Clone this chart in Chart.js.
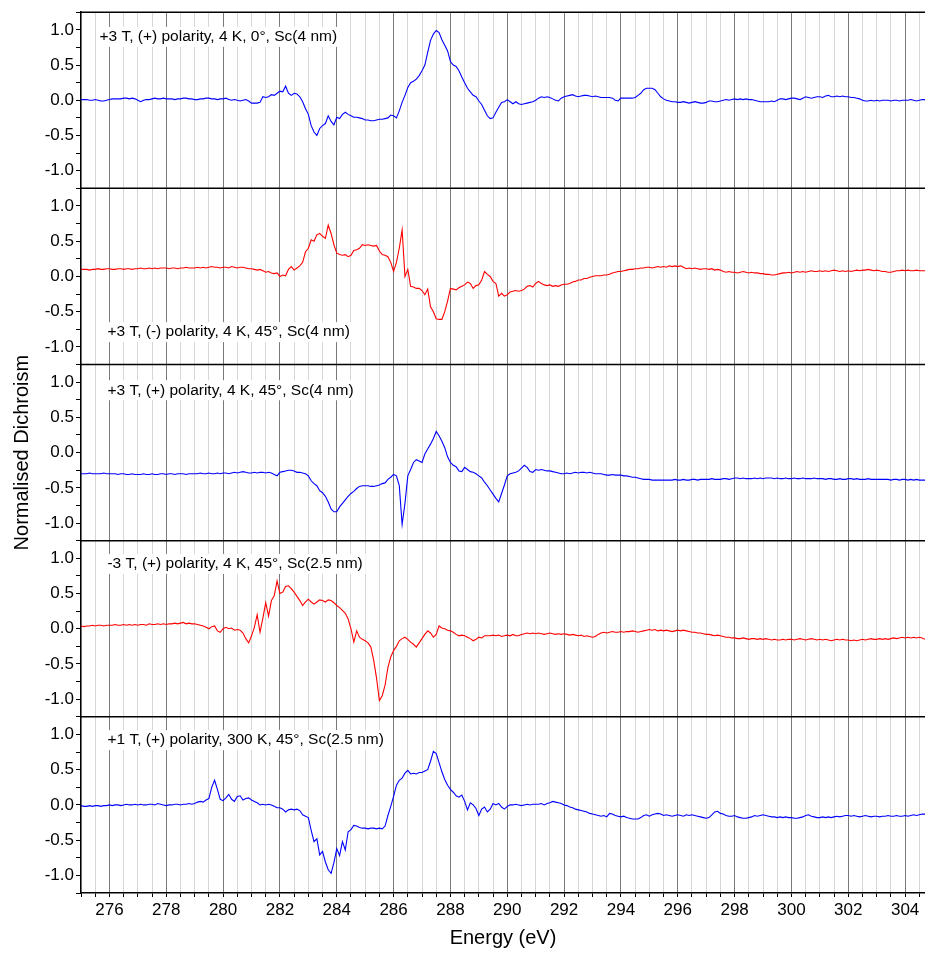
<!DOCTYPE html>
<html>
<head>
<meta charset="utf-8">
<script src="https://cdn.jsdelivr.net/npm/chart.js@4.4.0/dist/chart.umd.min.js"></script>
<style>
  html, body { margin: 0; padding: 0; background: #fff; }
  #wrap { width: 925px; height: 953px; position: relative; }
</style>
</head>
<body>
<div id="wrap"><canvas id="xmcd"></canvas></div>
<script>
// energy grid 275.0 .. 304.7 eV in 0.1 eV steps (each data row below = 1 eV)
var energies = [];
for (var i = 0; i < 298; i++) energies.push(Math.round((275 + i * 0.1) * 10) / 10);

// +3 T, (+) polarity, 4 K, 0 deg, Sc(4 nm)
var dichroism1 = [
  0.01,0.01,0.01,0.0,0.0,0.01,0.0,-0.01,-0.01,0.0,
  0.01,0.02,0.02,0.02,0.02,0.03,0.03,0.02,0.03,0.02,
  0.0,-0.02,0.0,0.01,0.01,0.02,0.03,0.02,0.02,0.03,
  0.02,0.02,0.02,0.01,0.02,0.02,0.03,0.03,0.02,0.02,
  0.01,0.01,0.02,0.02,0.03,0.03,0.02,0.02,0.01,0.02,
  0.02,0.03,0.01,0.0,0.01,0.0,-0.01,0.0,0.01,-0.01,
  -0.04,-0.04,-0.04,-0.03,0.05,0.04,0.05,0.08,0.07,0.1,
  0.13,0.12,0.2,0.1,0.07,0.1,0.09,0.05,-0.02,-0.12,
  -0.2,-0.36,-0.45,-0.5,-0.4,-0.36,-0.33,-0.22,-0.3,-0.35,
  -0.24,-0.26,-0.2,-0.17,-0.2,-0.22,-0.24,-0.24,-0.25,-0.26,
  -0.28,-0.28,-0.29,-0.29,-0.28,-0.27,-0.27,-0.26,-0.25,-0.21,
  -0.22,-0.25,-0.15,-0.03,0.07,0.18,0.25,0.27,0.3,0.35,
  0.42,0.5,0.68,0.85,0.94,0.99,0.96,0.86,0.78,0.7,
  0.55,0.5,0.48,0.42,0.33,0.25,0.17,0.12,0.07,0.05,
  -0.01,-0.06,-0.14,-0.22,-0.26,-0.25,-0.17,-0.1,-0.03,-0.02,
  0.01,-0.02,-0.05,-0.02,-0.05,-0.06,-0.05,-0.04,-0.03,-0.02,
  0.0,0.03,0.05,0.04,0.05,0.04,0.02,0.0,-0.01,0.03,
  0.05,0.06,0.07,0.08,0.06,0.05,0.06,0.07,0.07,0.06,
  0.05,0.06,0.05,0.04,0.04,0.04,0.04,0.03,0.0,-0.01,
  0.03,0.03,0.03,0.03,0.03,0.04,0.07,0.1,0.15,0.17,
  0.17,0.17,0.15,0.1,0.05,0.02,0.0,-0.01,-0.02,-0.02,
  -0.03,-0.03,-0.02,-0.03,-0.04,-0.03,-0.02,-0.03,-0.04,-0.04,
  -0.03,-0.01,-0.01,-0.02,-0.02,-0.01,0.0,0.01,0.0,0.01,
  0.02,0.01,0.02,0.01,0.02,0.01,0.01,0.0,-0.01,-0.02,
  -0.02,-0.02,-0.02,-0.01,-0.02,0.0,0.02,0.02,0.01,0.02,
  0.03,0.03,0.02,0.01,0.03,0.05,0.04,0.03,0.04,0.05,
  0.05,0.04,0.06,0.07,0.05,0.05,0.06,0.05,0.06,0.05,
  0.05,0.04,0.04,0.03,0.02,0.0,-0.01,-0.01,0.0,-0.01,
  0.0,-0.01,0.0,0.0,0.0,-0.01,0.0,0.0,-0.01,0.0,
  0.0,0.0,0.01,0.0,-0.01,0.0,0.01,0.01
];

// +3 T, (-) polarity, 4 K, 45 deg, Sc(4 nm)
var dichroism2 = [
  0.1,0.1,0.1,0.09,0.1,0.1,0.11,0.1,0.1,0.11,
  0.11,0.1,0.1,0.11,0.11,0.1,0.11,0.11,0.1,0.11,
  0.11,0.12,0.11,0.11,0.12,0.11,0.12,0.11,0.12,0.12,
  0.12,0.11,0.12,0.12,0.11,0.12,0.12,0.13,0.12,0.12,
  0.12,0.13,0.12,0.13,0.12,0.13,0.14,0.13,0.13,0.12,
  0.13,0.13,0.12,0.14,0.13,0.12,0.13,0.13,0.12,0.11,
  0.11,0.1,0.09,0.1,0.08,0.06,0.07,0.05,0.04,0.05,
  0.0,0.02,0.01,0.1,0.14,0.09,0.12,0.15,0.2,0.35,
  0.4,0.52,0.5,0.59,0.61,0.57,0.54,0.73,0.61,0.45,
  0.33,0.31,0.3,0.31,0.28,0.3,0.37,0.38,0.4,0.45,
  0.44,0.45,0.44,0.43,0.44,0.36,0.31,0.3,0.28,0.2,
  0.07,0.2,0.4,0.66,0.0,0.1,-0.14,-0.15,-0.17,-0.17,
  -0.2,-0.26,-0.18,-0.43,-0.5,-0.6,-0.61,-0.61,-0.5,-0.35,
  -0.17,-0.18,-0.19,-0.16,-0.14,-0.12,-0.08,-0.1,-0.17,-0.13,
  -0.12,-0.05,0.07,0.03,0.0,-0.07,-0.1,-0.28,-0.24,-0.28,
  -0.26,-0.22,-0.21,-0.2,-0.21,-0.2,-0.18,-0.14,-0.13,-0.15,
  -0.1,-0.07,-0.1,-0.12,-0.13,-0.12,-0.14,-0.13,-0.14,-0.12,
  -0.11,-0.11,-0.1,-0.08,-0.07,-0.05,-0.05,-0.03,-0.03,-0.01,
  0.0,0.01,0.01,0.01,0.02,0.02,0.03,0.05,0.06,0.07,
  0.07,0.08,0.09,0.1,0.1,0.11,0.11,0.12,0.12,0.13,
  0.13,0.12,0.13,0.14,0.13,0.14,0.13,0.15,0.14,0.15,
  0.14,0.15,0.13,0.11,0.12,0.11,0.12,0.11,0.1,0.11,
  0.11,0.1,0.11,0.09,0.1,0.09,0.07,0.06,0.07,0.06,
  0.06,0.05,0.06,0.07,0.06,0.05,0.06,0.05,0.05,0.04,
  0.04,0.03,0.03,0.02,0.02,0.03,0.04,0.05,0.05,0.06,
  0.05,0.06,0.07,0.06,0.07,0.06,0.07,0.08,0.07,0.07,
  0.08,0.07,0.08,0.07,0.08,0.09,0.08,0.07,0.08,0.07,
  0.08,0.07,0.08,0.09,0.08,0.09,0.09,0.1,0.09,0.08,
  0.09,0.08,0.07,0.07,0.06,0.06,0.07,0.08,0.08,0.09,
  0.08,0.09,0.08,0.08,0.09,0.08,0.08,0.08
];

// +3 T, (+) polarity, 4 K, 45 deg, Sc(4 nm)
var dichroism3 = [
  -0.3,-0.3,-0.3,-0.29,-0.3,-0.3,-0.3,-0.3,-0.29,-0.3,
  -0.3,-0.3,-0.3,-0.31,-0.3,-0.3,-0.31,-0.31,-0.3,-0.31,
  -0.31,-0.31,-0.3,-0.31,-0.31,-0.3,-0.31,-0.31,-0.3,-0.3,
  -0.31,-0.3,-0.3,-0.31,-0.3,-0.3,-0.3,-0.31,-0.3,-0.3,
  -0.3,-0.3,-0.29,-0.3,-0.3,-0.29,-0.3,-0.3,-0.29,-0.3,
  -0.29,-0.29,-0.3,-0.29,-0.28,-0.29,-0.28,-0.27,-0.28,-0.29,
  -0.29,-0.28,-0.29,-0.28,-0.28,-0.29,-0.28,-0.29,-0.31,-0.33,
  -0.28,-0.27,-0.26,-0.25,-0.25,-0.26,-0.28,-0.28,-0.29,-0.3,
  -0.33,-0.4,-0.44,-0.47,-0.54,-0.57,-0.62,-0.7,-0.8,-0.84,
  -0.84,-0.77,-0.72,-0.67,-0.62,-0.58,-0.55,-0.51,-0.48,-0.47,
  -0.47,-0.47,-0.48,-0.48,-0.47,-0.46,-0.44,-0.43,-0.38,-0.35,
  -0.31,-0.33,-0.47,-1.02,-0.72,-0.33,-0.24,-0.14,-0.1,-0.12,
  -0.14,-0.02,0.05,0.12,0.2,0.3,0.24,0.16,0.07,-0.06,
  -0.14,-0.18,-0.2,-0.26,-0.27,-0.21,-0.24,-0.27,-0.28,-0.3,
  -0.33,-0.36,-0.42,-0.47,-0.53,-0.59,-0.65,-0.7,-0.58,-0.46,
  -0.33,-0.3,-0.29,-0.28,-0.26,-0.22,-0.18,-0.21,-0.27,-0.28,
  -0.24,-0.25,-0.24,-0.25,-0.26,-0.26,-0.27,-0.28,-0.29,-0.3,
  -0.3,-0.29,-0.3,-0.29,-0.28,-0.29,-0.28,-0.28,-0.29,-0.28,
  -0.29,-0.3,-0.3,-0.3,-0.31,-0.32,-0.32,-0.31,-0.32,-0.32,
  -0.32,-0.33,-0.33,-0.34,-0.35,-0.35,-0.36,-0.37,-0.38,-0.38,
  -0.38,-0.39,-0.39,-0.39,-0.39,-0.39,-0.39,-0.39,-0.39,-0.38,
  -0.39,-0.39,-0.38,-0.39,-0.39,-0.38,-0.38,-0.39,-0.38,-0.38,
  -0.38,-0.38,-0.37,-0.38,-0.38,-0.38,-0.37,-0.37,-0.38,-0.37,
  -0.36,-0.36,-0.37,-0.36,-0.37,-0.37,-0.37,-0.36,-0.37,-0.36,
  -0.37,-0.36,-0.36,-0.36,-0.37,-0.36,-0.37,-0.37,-0.36,-0.37,
  -0.37,-0.36,-0.37,-0.37,-0.36,-0.37,-0.37,-0.37,-0.36,-0.37,
  -0.37,-0.37,-0.38,-0.37,-0.37,-0.38,-0.38,-0.37,-0.38,-0.38,
  -0.37,-0.37,-0.38,-0.37,-0.38,-0.38,-0.38,-0.37,-0.38,-0.38,
  -0.38,-0.38,-0.38,-0.38,-0.38,-0.39,-0.38,-0.38,-0.39,-0.38,
  -0.38,-0.39,-0.38,-0.39,-0.38,-0.39,-0.39,-0.39
];

// -3 T, (+) polarity, 4 K, 45 deg, Sc(2.5 nm)
var dichroism4 = [
  0.04,0.03,0.04,0.04,0.05,0.04,0.05,0.05,0.04,0.05,
  0.05,0.05,0.06,0.05,0.05,0.06,0.05,0.06,0.05,0.06,
  0.05,0.06,0.06,0.05,0.07,0.06,0.06,0.07,0.06,0.07,
  0.06,0.07,0.07,0.08,0.07,0.08,0.09,0.07,0.08,0.07,
  0.07,0.06,0.05,0.04,0.02,0.0,0.03,0.04,-0.03,-0.05,
  0.0,0.02,0.0,0.01,-0.02,-0.01,-0.02,-0.06,-0.14,-0.2,
  -0.1,0.02,0.2,-0.05,0.15,0.37,0.18,0.4,0.47,0.68,
  0.5,0.52,0.6,0.61,0.57,0.52,0.46,0.4,0.33,0.38,
  0.42,0.38,0.35,0.38,0.41,0.4,0.38,0.41,0.4,0.37,
  0.33,0.3,0.26,0.22,0.14,0.0,-0.19,-0.03,-0.12,-0.15,
  -0.17,-0.2,-0.26,-0.45,-0.7,-1.02,-0.95,-0.8,-0.55,-0.4,
  -0.31,-0.25,-0.17,-0.14,-0.12,-0.15,-0.19,-0.22,-0.26,-0.2,
  -0.14,-0.08,-0.03,-0.06,-0.12,-0.08,0.04,0.01,0.0,-0.02,
  -0.03,-0.05,-0.08,-0.1,-0.09,-0.1,-0.12,-0.14,-0.17,-0.15,
  -0.12,-0.13,-0.1,-0.1,-0.1,-0.09,-0.1,-0.09,-0.11,-0.1,
  -0.09,-0.1,-0.08,-0.1,-0.1,-0.08,-0.07,-0.06,-0.07,-0.06,
  -0.07,-0.06,-0.07,-0.08,-0.07,-0.06,-0.07,-0.08,-0.07,-0.08,
  -0.07,-0.08,-0.09,-0.08,-0.09,-0.1,-0.09,-0.11,-0.1,-0.11,
  -0.12,-0.11,-0.08,-0.06,-0.05,-0.06,-0.05,-0.04,-0.05,-0.05,
  -0.04,-0.05,-0.04,-0.04,-0.03,-0.04,-0.05,-0.04,-0.03,-0.02,
  -0.01,-0.02,-0.01,-0.03,-0.02,-0.03,-0.02,-0.03,-0.04,-0.03,
  -0.02,-0.03,-0.02,-0.03,-0.04,-0.05,-0.05,-0.06,-0.06,-0.07,
  -0.08,-0.08,-0.09,-0.1,-0.09,-0.1,-0.11,-0.12,-0.12,-0.13,
  -0.13,-0.14,-0.14,-0.13,-0.14,-0.15,-0.14,-0.14,-0.15,-0.14,
  -0.15,-0.14,-0.15,-0.16,-0.15,-0.16,-0.16,-0.15,-0.16,-0.15,
  -0.15,-0.16,-0.15,-0.14,-0.15,-0.16,-0.15,-0.14,-0.15,-0.16,
  -0.15,-0.16,-0.15,-0.16,-0.17,-0.16,-0.15,-0.16,-0.15,-0.16,
  -0.16,-0.17,-0.16,-0.17,-0.16,-0.15,-0.16,-0.15,-0.14,-0.15,
  -0.15,-0.14,-0.15,-0.14,-0.15,-0.14,-0.13,-0.14,-0.13,-0.12,
  -0.13,-0.12,-0.13,-0.12,-0.13,-0.12,-0.13,-0.15
];

// +1 T, (+) polarity, 300 K, 45 deg, Sc(2.5 nm)
var dichroism5 = [
  -0.01,-0.02,-0.02,-0.01,-0.02,-0.01,-0.01,-0.02,-0.01,-0.01,
  0.0,-0.01,0.0,0.0,-0.01,0.0,0.01,0.0,0.0,0.01,
  0.0,0.01,0.0,0.0,0.01,0.01,0.0,0.02,0.01,0.0,
  -0.01,0.0,0.0,0.01,0.01,0.0,0.01,0.01,0.02,0.01,
  0.02,0.04,0.05,0.04,0.07,0.09,0.25,0.35,0.22,0.08,
  0.06,0.1,0.15,0.08,0.05,0.12,0.13,0.07,0.09,0.1,
  0.07,0.05,0.03,0.0,0.01,0.0,0.01,0.0,-0.02,-0.04,
  -0.04,-0.06,-0.1,-0.07,-0.06,-0.07,-0.06,-0.08,-0.14,-0.16,
  -0.18,-0.36,-0.52,-0.48,-0.71,-0.66,-0.81,-0.92,-0.97,-0.82,
  -0.62,-0.72,-0.52,-0.64,-0.38,-0.35,-0.29,-0.3,-0.32,-0.33,
  -0.33,-0.34,-0.33,-0.33,-0.34,-0.33,-0.34,-0.3,-0.15,-0.02,
  0.12,0.28,0.35,0.38,0.45,0.49,0.44,0.45,0.44,0.46,
  0.46,0.48,0.5,0.62,0.76,0.73,0.6,0.47,0.36,0.28,
  0.22,0.18,0.13,0.11,0.14,0.05,-0.07,0.03,0.0,-0.05,
  -0.15,-0.06,-0.03,-0.1,-0.06,0.02,0.0,0.02,-0.03,-0.06,
  -0.02,0.0,0.0,0.01,0.0,-0.01,0.0,0.01,0.0,0.01,
  0.01,0.01,0.02,0.0,0.02,0.03,0.05,0.04,0.03,0.02,
  0.0,-0.01,-0.03,-0.04,-0.06,-0.07,-0.08,-0.09,-0.1,-0.12,
  -0.13,-0.14,-0.15,-0.16,-0.15,-0.17,-0.12,-0.13,-0.15,-0.16,
  -0.17,-0.16,-0.18,-0.19,-0.2,-0.2,-0.2,-0.18,-0.15,-0.14,
  -0.16,-0.14,-0.13,-0.12,-0.13,-0.15,-0.14,-0.15,-0.16,-0.15,
  -0.14,-0.15,-0.16,-0.14,-0.15,-0.14,-0.15,-0.16,-0.17,-0.18,
  -0.19,-0.18,-0.14,-0.1,-0.09,-0.12,-0.13,-0.15,-0.16,-0.16,
  -0.15,-0.17,-0.18,-0.19,-0.19,-0.18,-0.17,-0.15,-0.16,-0.15,
  -0.14,-0.15,-0.16,-0.17,-0.17,-0.18,-0.17,-0.18,-0.17,-0.18,
  -0.18,-0.19,-0.19,-0.18,-0.17,-0.15,-0.14,-0.16,-0.17,-0.18,
  -0.18,-0.17,-0.18,-0.17,-0.18,-0.17,-0.16,-0.17,-0.16,-0.15,
  -0.15,-0.16,-0.15,-0.16,-0.17,-0.16,-0.15,-0.16,-0.17,-0.16,
  -0.16,-0.17,-0.16,-0.16,-0.15,-0.16,-0.16,-0.15,-0.16,-0.16,
  -0.15,-0.16,-0.15,-0.14,-0.15,-0.14,-0.13,-0.13
];

var series = [dichroism1, dichroism2, dichroism3, dichroism4, dichroism5];
var colours = ['#0000ff', '#ff0000', '#0000ff', '#ff0000', '#0000ff'];
var panelAxes = ['y1', 'y2', 'y3', 'y4', 'y5'];
var panelLabels = [
  '+3 T, (+) polarity, 4 K, 0\u00b0, Sc(4 nm)',
  '+3 T, (-) polarity, 4 K, 45\u00b0, Sc(4 nm)',
  '+3 T, (+) polarity, 4 K, 45\u00b0, Sc(4 nm)',
  '-3 T, (+) polarity, 4 K, 45\u00b0, Sc(2.5 nm)',
  '+1 T, (+) polarity, 300 K, 45\u00b0, Sc(2.5 nm)'
];
// where each panel label sits, in data units (eV, dichroism)
var labelEnergy = [275.65, 275.93, 275.93, 275.93, 275.93];
var labelLevel = [0.9, -0.79, 0.885, 0.92, 0.92];

Chart.defaults.font.family = '"Liberation Sans", Arial, Helvetica, sans-serif';
Chart.defaults.color = '#000';

var panelFrame = {
  id: 'panelFrame',
  beforeDatasetsDraw: function (chart) {
    var ctx = chart.ctx, xs = chart.scales.x;
    ctx.save();
    ctx.font = '15.5px "Liberation Sans", Arial, sans-serif';
    ctx.textBaseline = 'middle';
    panelLabels.forEach(function (txt, i) {
      var ys = chart.scales[panelAxes[i]];
      var x = xs.getPixelForValue(labelEnergy[i]);
      var y = ys.getPixelForValue(labelLevel[i]);
      var w = ctx.measureText(txt).width;
      ctx.fillStyle = '#fff';
      ctx.fillRect(x - 3, y - 10, w + 6, 20);
      ctx.fillStyle = '#000';
      ctx.fillText(txt, x, y);
    });
    ctx.restore();
  },
  afterDatasetsDraw: function (chart) {
    var ctx = chart.ctx, area = chart.chartArea;
    ctx.save();
    ctx.strokeStyle = '#000';
    ctx.lineWidth = 1.5;
    panelAxes.forEach(function (id) {
      var s = chart.scales[id];
      ctx.beginPath();
      ctx.moveTo(area.left, s.top);
      ctx.lineTo(area.right, s.top);
      ctx.stroke();
    });
    ctx.restore();
  }
};

var scales = {
  x: {
    type: 'linear',
    position: 'bottom',
    min: 275,
    max: 304.7,
    ticks: {
      stepSize: 0.5,
      includeBounds: false,
      autoSkip: false,
      maxRotation: 0,
      padding: 3,
      font: { size: 17 },
      callback: function (v) { return v % 2 === 0 ? String(v) : ''; }
    },
    grid: {
      color: function (c) { return (c.tick && c.tick.value % 2 === 0) ? '#7a7a7a' : '#d6d6d6'; },
      lineWidth: 1,
      tickLength: 4,
      tickColor: '#000'
    },
    border: { color: '#000', width: 1.5 },
    title: { display: true, text: 'Energy (eV)', font: { size: 20 }, padding: { top: 0, bottom: 3 } },
    afterFit: function (s) { s.height = 60; }
  }
};

// bottom panel first: the last stacked axis ends up on top
panelAxes.slice().reverse().forEach(function (id) {
  scales[id] = {
    type: 'linear',
    position: 'left',
    stack: 'panels',
    stackWeight: 1,
    min: -1.25,
    max: 1.25,
    ticks: {
      stepSize: 0.25,
      autoSkip: false,
      padding: 2,
      font: { size: 17 },
      callback: function (v) {
        return (Math.abs(v) <= 1 && Math.abs(v * 2 - Math.round(v * 2)) < 1e-6) ? v.toFixed(1) : '';
      }
    },
    grid: { drawOnChartArea: false, tickLength: 5, tickColor: '#000' },
    border: { color: '#000', width: 1.5 },
    title: { display: id === 'y3', text: 'Normalised Dichroism', font: { size: 20 }, padding: { top: 10, bottom: 0 } },
    afterFit: function (s) { s.width = 81; }
  };
});

var datasets = series.map(function (vals, i) {
  return {
    label: panelLabels[i],
    data: energies.map(function (e, j) { return { x: e, y: vals[j] }; }),
    yAxisID: panelAxes[i],
    borderColor: colours[i],
    borderWidth: 1.1,
    pointRadius: 0,
    tension: 0,
    fill: false
  };
});

new Chart(document.getElementById('xmcd').getContext('2d'), {
  type: 'line',
  data: { datasets: datasets },
  options: {
    responsive: true,
    maintainAspectRatio: false,
    animation: false,
    devicePixelRatio: 1,
    layout: { padding: { top: 10, right: 0, bottom: 0, left: 0 } },
    plugins: { legend: { display: false }, tooltip: { enabled: false } },
    scales: scales
  },
  plugins: [panelFrame]
});
</script>
</body>
</html>
